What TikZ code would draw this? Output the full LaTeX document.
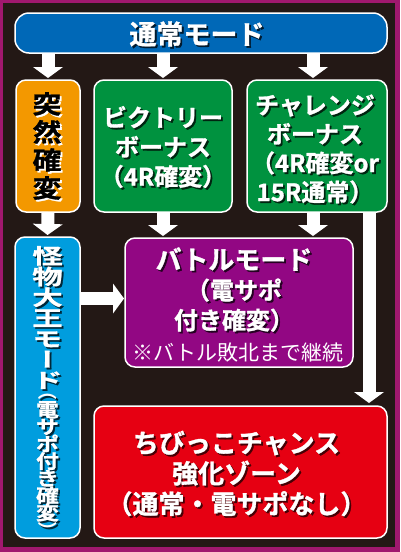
\documentclass[tikz,border=0pt]{standalone}
\usepackage{fontspec}
\usepackage{graphicx}
\newfontfamily\jp{Noto Sans CJK JP}[BoldFont=* Bold, BoldFeatures={FakeBold=1.2}]
\newfontfamily\jpr{Noto Sans CJK JP}[BoldFont=* Bold]
\newfontfamily\jpo{Noto Sans CJK JP}[BoldFont=* Bold, BoldFeatures={FakeBold=1.2}, FakeStretch=1.15]
\newfontfamily\jpv{Noto Sans CJK JP}[BoldFont=* Bold, BoldFeatures={FakeBold=1.2}, RawFeature=+vert, FakeStretch=1.45]
\newfontfamily\jpvs{Noto Sans CJK JP}[BoldFont=* Bold, BoldFeatures={FakeBold=1.2}, FakeStretch=1.2]
\usetikzlibrary{arrows.meta,calc}
\definecolor{cframe}{RGB}{160,24,110}
\definecolor{cbg}{RGB}{35,24,21}
\definecolor{cblue}{RGB}{0,104,183}
\definecolor{corange}{RGB}{243,152,0}
\definecolor{cgreen}{RGB}{0,146,63}
\definecolor{ccyan}{RGB}{0,157,222}
\definecolor{cpurple}{RGB}{146,7,131}
\definecolor{cred}{RGB}{230,0,18}
\newcommand\shtext[5]{%
  \node[#3, text=#4, xshift=1.8pt, yshift=-1.8pt] (#1s) at (#2) {#5};
  \node[#3] (#1) at (#2) {#5};}
\newcommand\vparen[1]{\rotatebox[origin=c]{-90}{\jpr\bfseries #1}}
\begin{document}
\begin{tikzpicture}[x=1pt,y=-1pt,
  box/.style={draw=white, line width=1.5pt, rounded corners=10pt, inner sep=0pt, outer sep=0pt},
  barrow/.style={draw=white, line width=13pt, -{Triangle[width=30pt,length=11pt,line width=0pt]}, shorten >=2pt},
  jtxt/.style n args={2}{text=white, align=center, inner sep=0pt,
     font={\jp\bfseries\fontsize{#1}{#2}\selectfont\lineskiplimit=-40pt}},
  vtxt/.style n args={3}{text=white, align=center, inner sep=0pt,
     font={#3\bfseries\fontsize{#1}{#2}\selectfont\lineskiplimit=-40pt}}
]
\fill[cframe] (0,0) rectangle (400,552);
\fill[cbg] (3,3) rectangle (395,547);

% boxes
\node[box, rounded corners=14pt, fill=cblue, minimum width=372pt, minimum height=40pt] (top) at (201,33) {};
\node[box, fill=corange, minimum width=64pt, minimum height=132pt] (orange) at (48,146) {};
\node[box, fill=cgreen, minimum width=138pt, minimum height=132pt] (victory) at (163,146) {};
\node[box, fill=cgreen, minimum width=140pt, minimum height=132pt] (challenge) at (317,146) {};
\node[box, fill=ccyan, minimum width=65pt, minimum height=301pt] (monster) at (47.5,387.5) {};
\node[box, fill=cpurple, minimum width=228pt, minimum height=129pt] (battle) at (239,302.5) {};
\node[box, fill=cred, minimum width=293pt, minimum height=132pt] (chance) at (240.5,472) {};

% connectors
\coordinate (cp) at ($(challenge.south)+(-4,0)$);
\coordinate (lp) at ($(challenge.south east)+(-18,0)$);
\coordinate (hp) at ($(battle.west)+(0,-4)$);
\draw[barrow] (top.south -| orange.north) -- (orange.north);
\draw[barrow] (top.south -| victory.north) -- (victory.north);
\draw[barrow] (top.south -| cp) -- (cp |- challenge.north);
\draw[barrow] (orange.south) -- (monster.north);
\draw[barrow] (victory.south) -- (victory.south |- battle.north);
\draw[barrow] (cp) -- (cp |- battle.north);
\draw[barrow, shorten >=3pt] (lp) -- (lp |- chance.north);
\draw[barrow, shorten >=1pt] (monster.east |- hp) -- (hp);

% texts
\shtext{t-top}{$(top)+(-4,1)$}{jtxt={27}{30}}{cblue!25!black}{通常モード}
\shtext{t-orange}{$(orange)+(-1,0)$}{vtxt={25}{28}{\jpo}, text=black}{white}{突\\然\\確\\変}
\shtext{t-victory}{$(victory)+(0,1)$}{jtxt={24}{29.5}}{cgreen!25!black}{ビクトリー\\ボーナス\\（4R確変）}
\shtext{t-challenge}{$(challenge)+(-2,3)$}{jtxt={24}{29}}{cgreen!25!black}{チャレンジ\\ボーナス\\（4R確変or\\15R通常）}
\shtext{t-battle}{$(battle)+(-5,-13)$}{jtxt={24}{30}}{cpurple!25!black}{{\fontsize{26}{30}\selectfont バトルモード}\\（電サポ\\付き確変）}
\node[text=white, inner sep=0pt, font=\jpr\fontsize{21}{24}\selectfont] (t-note) at ($(battle)+(-1,50)$) {※バトル敗北まで継続};
\shtext{t-chance}{$(chance)+(-4,1.5)$}{jtxt={26}{30.5}}{cred!30!black}{ちびっこチャンス\\強化ゾーン\\（通常・電サポなし）}
\shtext{t-monster}{47.5,317.5}{vtxt={21}{20.7}{\jpv}}{ccyan!25!black}{怪\\物\\大\\王\\モ\\ー\\ド}
\shtext{t-monster2}{47.5,461}{vtxt={19}{17.2}{\jpvs}}{ccyan!25!black}{\vparen{（}\\[1pt]電\\サ\\ポ\\付\\き\\確\\変\\[1pt]\vparen{）}}
\end{tikzpicture}
\end{document}
